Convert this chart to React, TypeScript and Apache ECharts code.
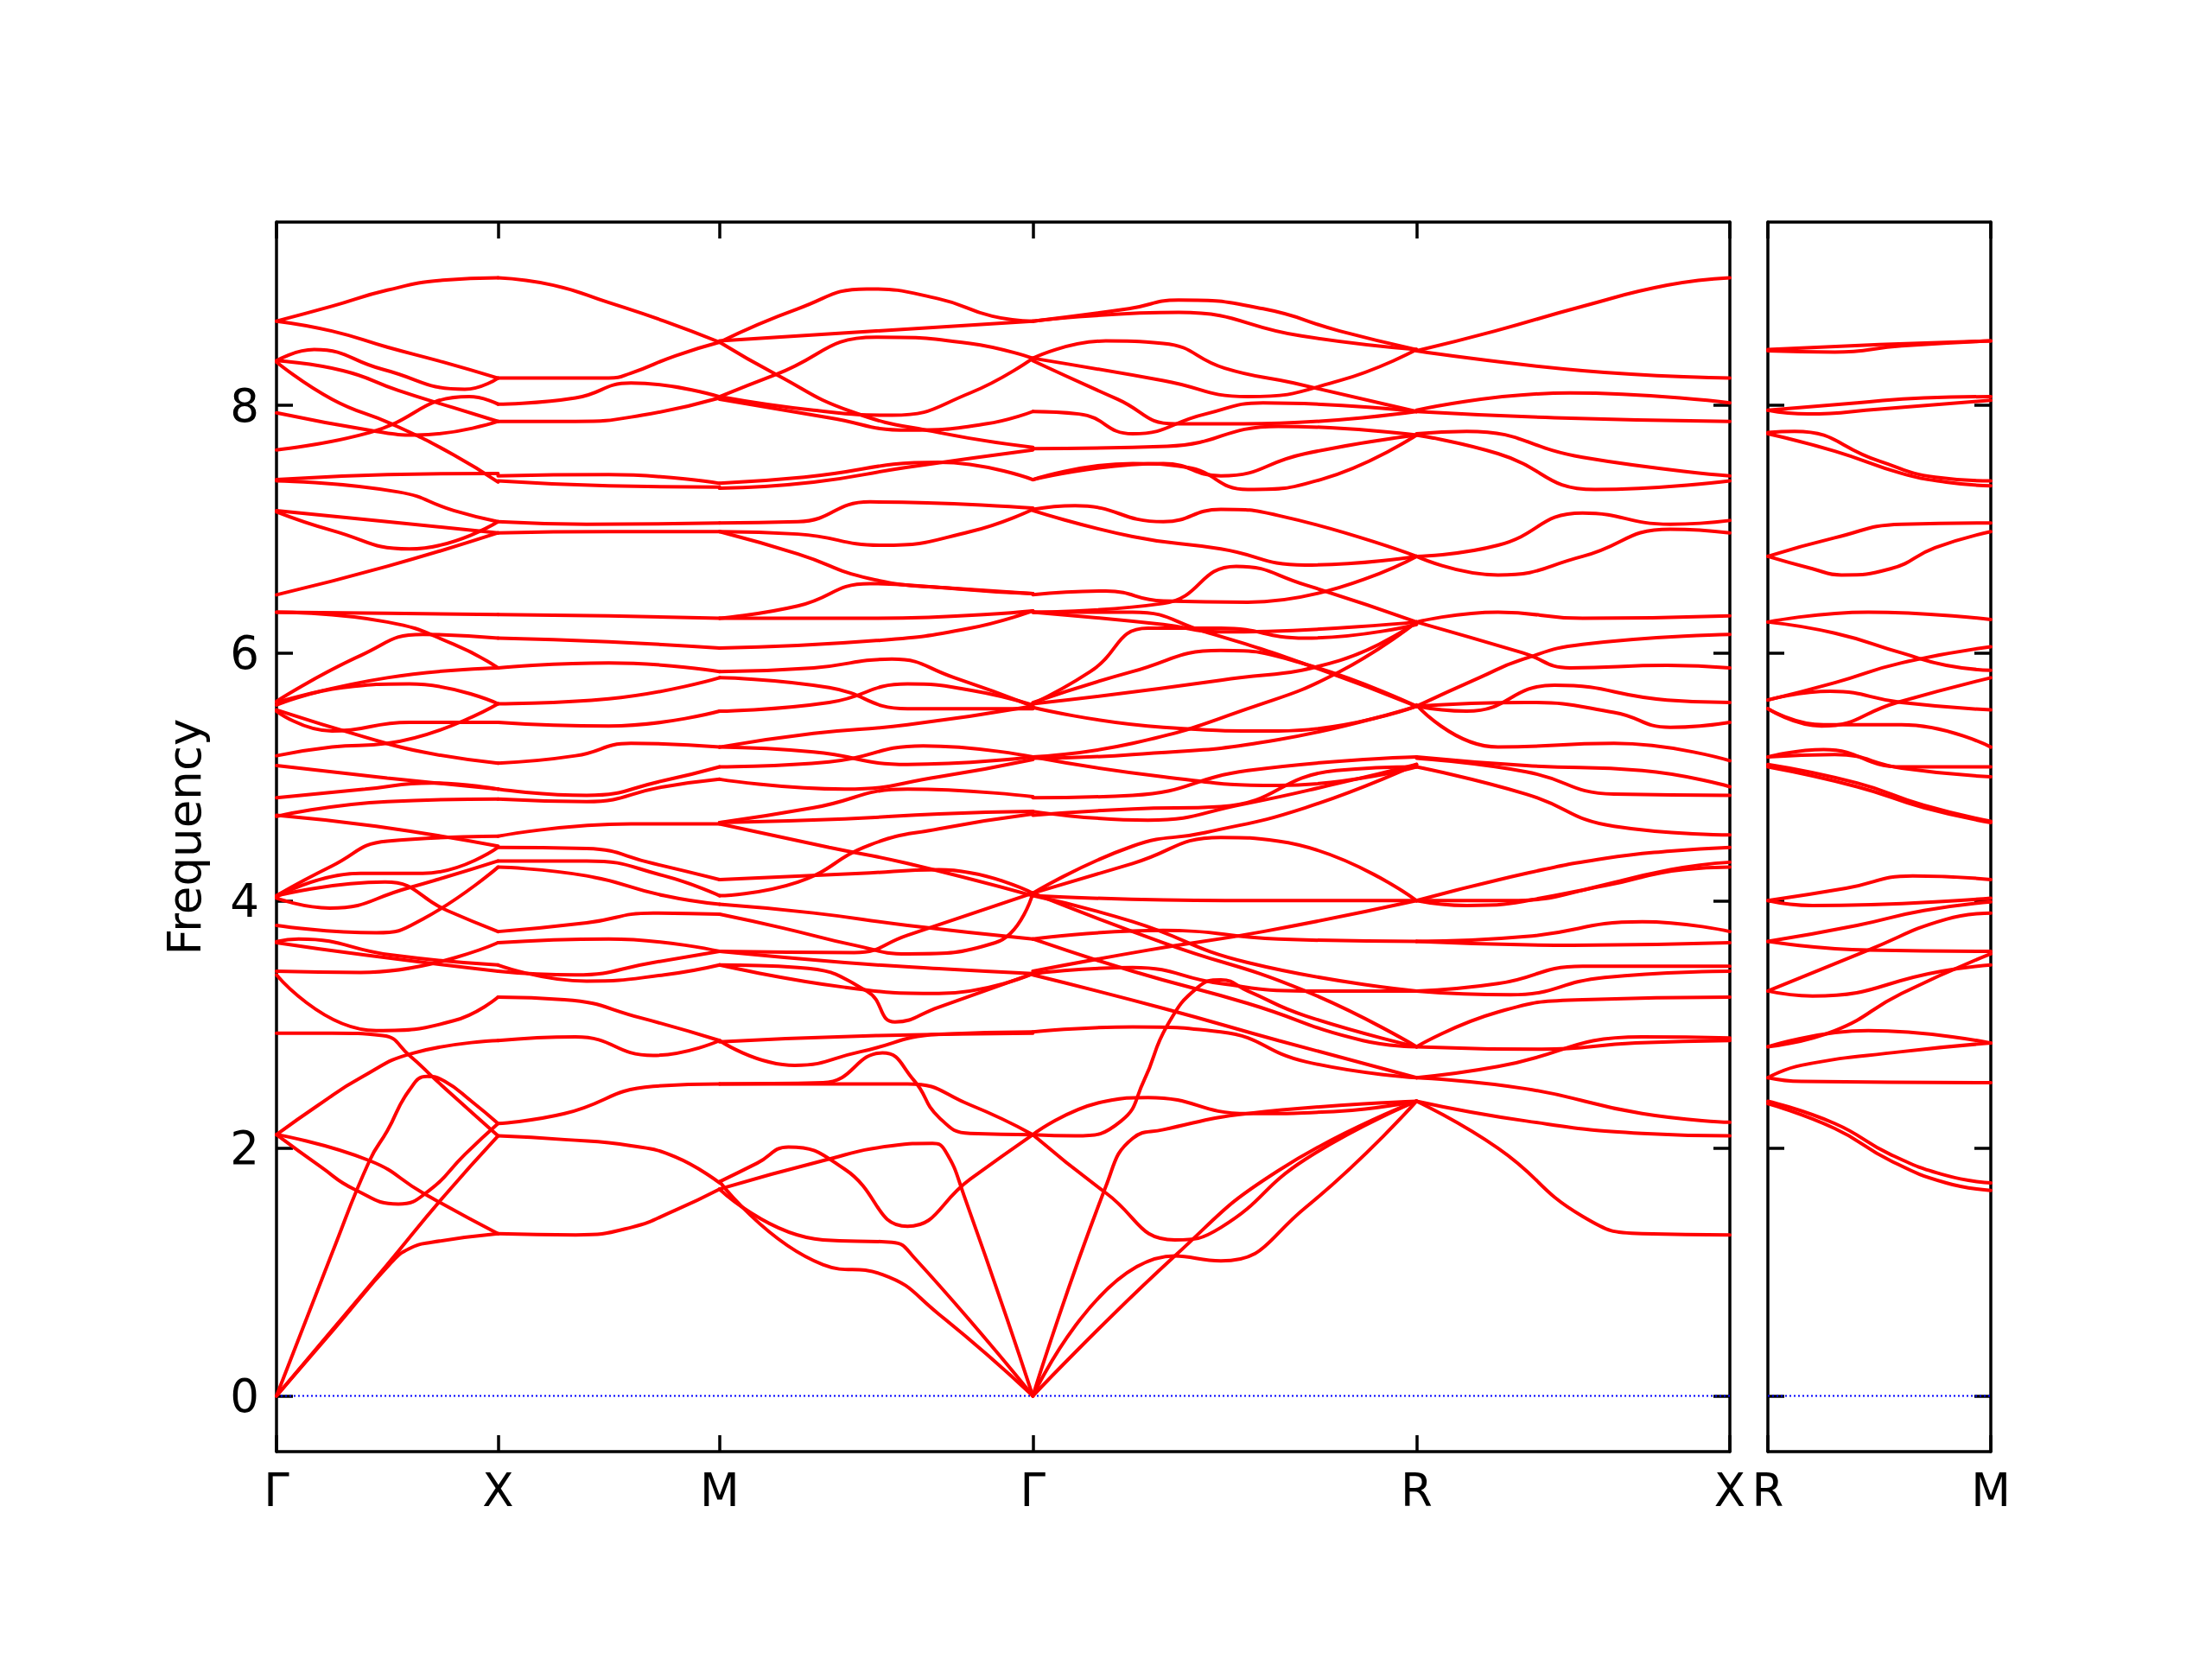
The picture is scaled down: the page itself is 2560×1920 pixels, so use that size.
import React, { useEffect, useRef } from 'react';
import * as echarts from 'echarts';

// ---- axes / labels ----
const LEFT_LABELS = ['Γ', 'X', 'M', 'Γ', 'R', 'X'];
const LEFT_POS = [0, 0.5, 1.0, 1.7071, 2.5731, 3.2802];
const RIGHT_LABELS = ['R', 'M'];
const RIGHT_POS = [0, 0.5];
const Y_TICKS = [0, 2, 4, 6, 8];
const Y_MIN = -0.45;
const Y_MAX = 9.48;

// ---- band curves per segment: [t along segment (0..1), frequency] ----
const GX_BANDS = [
  [[0, 8.68], [0.25, 8.8], [0.5, 8.93], [0.75, 9.01], [1, 9.03]],
  [[0, 8.68], [0.25, 8.6], [0.5, 8.47], [0.75, 8.35], [1, 8.22]],
  [[0, 8.36], [0.17, 8.45], [0.48, 8.29], [0.85, 8.13], [1, 8.22]],
  [[0, 8.36], [0.3, 8.28], [0.55, 8.12], [0.8, 7.98], [1, 7.87]],
  [[0, 8.35], [0.25, 8.05], [0.52, 7.85], [0.8, 7.6], [1, 7.38]],
  [[0, 7.94], [0.45, 7.79], [0.63, 7.76], [1, 7.87]],
  [[0, 7.64], [0.42, 7.78], [0.87, 8.07], [1, 8.01]],
  [[0, 7.4], [0.5, 7.44], [1, 7.45]],
  [[0, 7.39], [0.55, 7.3], [0.8, 7.15], [1, 7.06]],
  [[0, 7.15], [0.5, 7.06], [1, 6.97]],
  [[0, 7.14], [0.25, 6.99], [0.6, 6.84], [1, 7.06]],
  [[0, 6.47], [0.5, 6.7], [1, 6.97]],
  [[0, 6.33], [0.5, 6.32], [1, 6.31]],
  [[0, 6.33], [0.5, 6.25], [0.8, 6.07], [1, 5.88]],
  [[0, 5.61], [0.38, 5.98], [0.66, 6.15], [1, 6.12]],
  [[0, 5.6], [0.5, 5.8], [1, 5.88]],
  [[0, 5.58], [0.3, 5.72], [0.6, 5.75], [1, 5.59]],
  [[0, 5.53], [0.25, 5.37], [0.6, 5.44], [1, 5.44]],
  [[0, 5.54], [0.4, 5.32], [0.66, 5.2], [1, 5.11]],
  [[0, 5.17], [0.25, 5.24], [0.5, 5.27], [1, 5.59]],
  [[0, 5.09], [0.5, 4.99], [1, 4.9]],
  [[0, 4.83], [0.4, 4.9], [0.7, 4.95], [1, 4.9]],
  [[0, 4.69], [0.45, 4.6], [1, 4.44]],
  [[0, 4.68], [0.5, 4.8], [1, 4.82]],
  [[0, 4.04], [0.25, 4.28], [0.5, 4.48], [1, 4.52]],
  [[0, 4.03], [0.38, 4.22], [0.66, 4.22], [1, 4.43]],
  [[0, 4.02], [0.24, 3.94], [0.59, 4.1], [1, 4.32]],
  [[0, 4.04], [0.49, 4.15], [0.77, 3.92], [1, 3.75]],
  [[0, 3.8], [0.45, 3.74], [0.66, 3.85], [1, 4.27]],
  [[0, 3.67], [0.1, 3.69], [0.52, 3.56], [1, 3.48]],
  [[0, 3.66], [0.4, 3.56], [1, 3.43]],
  [[0, 3.43], [0.38, 3.42], [1, 3.66]],
  [[0, 3.4], [0.45, 2.95], [0.8, 3.03], [1, 3.22]],
  [[0, 2.93], [0.25, 2.93], [0.48, 2.91], [0.6, 2.75], [0.72, 2.55], [1, 2.1]],
  [[0, 2.11], [0.19, 2.35], [0.38, 2.57], [0.62, 2.77], [1, 2.87]],
  [[0, 2.11], [0.42, 1.9], [0.66, 1.64], [1, 1.31]],
  [[0, 2.11], [0.2, 1.85], [0.35, 1.67], [0.55, 1.55], [0.69, 1.66], [0.85, 1.95], [1, 2.2]],
  [[0, 0], [0.25, 1.15], [0.42, 1.9], [0.5, 2.14], [0.6, 2.47], [0.68, 2.58], [0.76, 2.54], [0.88, 2.38], [1, 2.2]],
  [[0, 0], [0.26, 0.54], [0.52, 1.08], [0.6, 1.19], [0.7, 1.24], [1, 1.31]],
  [[0, 0], [0.25, 0.53], [0.5, 1.06], [0.75, 1.6], [1, 2.1]],
];

const XM_BANDS = [
  [[0, 9.03], [0.25, 8.97], [0.5, 8.83], [0.75, 8.68], [1, 8.51]],
  [[0, 8.22], [0.5, 8.22], [0.6, 8.26], [0.8, 8.4], [1, 8.51]],
  [[0, 8.01], [0.35, 8.06], [0.6, 8.18], [1, 8.07]],
  [[0, 7.87], [0.35, 7.87], [0.65, 7.92], [1, 8.06]],
  [[0, 7.43], [0.5, 7.44], [1, 7.37]],
  [[0, 7.39], [0.5, 7.35], [1, 7.34]],
  [[0, 7.06], [0.4, 7.04], [1, 7.05]],
  [[0, 6.97], [0.5, 6.98], [1, 6.98]],
  [[0, 6.31], [0.5, 6.3], [1, 6.28]],
  [[0, 6.12], [0.5, 6.09], [1, 6.04]],
  [[0, 5.88], [0.5, 5.92], [1, 5.85]],
  [[0, 5.59], [0.5, 5.63], [1, 5.8]],
  [[0, 5.44], [0.5, 5.41], [1, 5.53]],
  [[0, 5.11], [0.35, 5.17], [0.6, 5.27], [1, 5.24]],
  [[0, 4.9], [0.4, 4.85], [0.75, 4.97], [1, 5.08]],
  [[0, 4.82], [0.4, 4.8], [0.75, 4.92], [1, 4.98]],
  [[0, 4.52], [0.6, 4.62], [1, 4.62]],
  [[0, 4.43], [0.4, 4.42], [0.7, 4.3], [1, 4.17]],
  [[0, 4.32], [0.4, 4.32], [0.75, 4.2], [1, 4.04]],
  [[0, 4.27], [0.4, 4.2], [0.75, 4.04], [1, 3.97]],
  [[0, 3.75], [0.4, 3.82], [0.7, 3.9], [1, 3.89]],
  [[0, 3.66], [0.5, 3.69], [1, 3.59]],
  [[0, 3.48], [0.4, 3.35], [0.75, 3.4], [1, 3.48]],
  [[0, 3.43], [0.35, 3.4], [0.7, 3.5], [1, 3.59]],
  [[0, 3.22], [0.3, 3.2], [0.65, 3.05], [1, 2.87]],
  [[0, 2.87], [0.35, 2.9], [0.7, 2.75], [1, 2.87]],
  [[0, 2.2], [0.3, 2.28], [0.7, 2.5], [1, 2.52]],
  [[0, 2.1], [0.3, 2.07], [0.6, 2.02], [0.8, 1.93], [1, 1.72]],
  [[0, 1.31], [0.35, 1.3], [0.6, 1.36], [0.8, 1.5], [1, 1.67]],
];

const MG_BANDS = [
  [[0, 8.51], [0.25, 8.78], [0.47, 8.94], [0.7, 8.86], [0.87, 8.72], [1, 8.68]],
  [[0, 8.52], [0.5, 8.6], [1, 8.68]],
  [[0, 8.07], [0.18, 8.25], [0.5, 8.55], [0.8, 8.5], [1, 8.38]],
  [[0, 8.51], [0.18, 8.25], [0.42, 7.95], [0.7, 7.78], [1, 7.66]],
  [[0, 8.07], [0.3, 7.96], [0.55, 7.92], [0.8, 8.1], [1, 8.38]],
  [[0, 8.05], [0.35, 7.9], [0.6, 7.8], [0.85, 7.85], [1, 7.95]],
  [[0, 7.37], [0.27, 7.42], [0.7, 7.54], [1, 7.4]],
  [[0, 7.33], [0.3, 7.38], [0.6, 7.5], [1, 7.64]],
  [[0, 7.05], [0.25, 7.06], [0.48, 7.22], [1, 7.17]],
  [[0, 6.98], [0.25, 6.96], [0.52, 6.87], [0.8, 6.98], [1, 7.16]],
  [[0, 6.98], [0.25, 6.8], [0.48, 6.6], [0.75, 6.52], [1, 6.48]],
  [[0, 6.28], [0.25, 6.38], [0.48, 6.56], [0.7, 6.53], [1, 6.48]],
  [[0, 6.28], [0.5, 6.28], [1, 6.34]],
  [[0, 6.04], [0.5, 6.1], [0.8, 6.2], [1, 6.34]],
  [[0, 5.85], [0.3, 5.88], [0.55, 5.95], [0.75, 5.8], [1, 5.57]],
  [[0, 5.8], [0.35, 5.72], [0.6, 5.55], [1, 5.55]],
  [[0, 5.53], [0.35, 5.6], [0.6, 5.75], [0.8, 5.7], [1, 5.58]],
  [[0, 5.24], [0.3, 5.35], [0.6, 5.42], [1, 5.57]],
  [[0, 5.24], [0.3, 5.2], [0.6, 5.1], [1, 5.16]],
  [[0, 5.08], [0.35, 5.12], [0.65, 5.25], [1, 5.16]],
  [[0, 4.98], [0.4, 4.9], [0.7, 5.0], [1, 5.14]],
  [[0, 4.63], [0.3, 4.75], [0.6, 4.9], [1, 4.84]],
  [[0, 4.63], [0.4, 4.66], [0.7, 4.7], [1, 4.72]],
  [[0, 4.62], [0.35, 4.43], [0.6, 4.3], [1, 4.04]],
  [[0, 4.17], [0.45, 4.22], [0.7, 4.25], [1, 4.06]],
  [[0, 4.04], [0.25, 4.15], [0.48, 4.45], [0.7, 4.58], [1, 4.7]],
  [[0, 3.89], [0.2, 3.78], [0.43, 3.64], [0.6, 3.57], [0.88, 3.66], [1, 4.06]],
  [[0, 3.59], [0.43, 3.58], [0.6, 3.72], [1, 4.06]],
  [[0, 3.97], [0.3, 3.9], [0.6, 3.8], [1, 3.69]],
  [[0, 3.48], [0.25, 3.46], [0.47, 3.27], [0.56, 3.02], [0.7, 3.14], [1, 3.41]],
  [[0, 3.59], [0.4, 3.5], [0.7, 3.45], [1, 3.41]],
  [[0, 3.48], [0.4, 3.3], [0.7, 3.25], [1, 3.41]],
  [[0, 2.87], [0.24, 2.67], [0.45, 2.78], [0.7, 2.92], [1, 2.94]],
  [[0, 2.86], [0.5, 2.91], [1, 2.93]],
  [[0, 2.52], [0.33, 2.53], [0.52, 2.77], [0.62, 2.55], [0.7, 2.25], [0.8, 2.12], [1, 2.11]],
  [[0, 2.52], [0.6, 2.52], [0.8, 2.35], [1, 2.11]],
  [[0, 1.73], [0.12, 1.88], [0.22, 2.01], [0.4, 1.83], [0.6, 1.37], [0.8, 1.75], [1, 2.11]],
  [[0, 1.67], [0.33, 1.9], [0.55, 2.02], [0.68, 2.04], [0.72, 1.98], [0.78, 1.62], [1, 0]],
  [[0, 1.67], [0.33, 1.26], [0.55, 1.24], [0.62, 1.12], [1, 0]],
  [[0, 1.73], [0.33, 1.06], [0.52, 0.98], [0.7, 0.66], [1, 0]],
];

const GR_BANDS = [
  [[0, 8.68], [0.25, 8.78], [0.38, 8.85], [0.6, 8.78], [0.8, 8.6], [1, 8.45]],
  [[0, 8.68], [0.38, 8.75], [0.7, 8.56], [1, 8.45]],
  [[0, 8.38], [0.19, 8.52], [0.34, 8.5], [0.5, 8.3], [0.68, 8.18], [1, 7.95]],
  [[0, 8.38], [0.34, 8.2], [0.56, 8.07], [0.8, 8.2], [1, 8.45]],
  [[0, 8.36], [0.22, 8.05], [0.37, 7.85], [0.55, 7.85], [1, 7.95]],
  [[0, 7.95], [0.12, 7.93], [0.26, 7.77], [0.45, 7.93], [0.6, 8.02], [1, 7.95]],
  [[0, 7.65], [0.35, 7.67], [0.64, 7.83], [1, 7.76]],
  [[0, 7.4], [0.26, 7.53], [0.4, 7.5], [0.56, 7.32], [0.75, 7.4], [1, 7.76]],
  [[0, 7.4], [0.34, 7.53], [0.49, 7.43], [0.71, 7.61], [1, 7.76]],
  [[0, 7.16], [0.11, 7.19], [0.34, 7.06], [0.49, 7.16], [0.64, 7.11], [1, 6.78]],
  [[0, 7.15], [0.26, 6.94], [0.49, 6.84], [0.71, 6.71], [1, 6.78]],
  [[0, 6.47], [0.19, 6.5], [0.34, 6.42], [0.56, 6.41], [1, 6.78]],
  [[0, 6.33], [0.34, 6.4], [0.53, 6.7], [0.71, 6.55], [1, 6.25]],
  [[0, 6.33], [0.34, 6.23], [0.49, 6.17], [1, 6.25]],
  [[0, 6.33], [0.26, 6.33], [0.45, 6.17], [0.71, 5.91], [1, 5.57]],
  [[0, 5.59], [0.15, 5.85], [0.3, 6.2], [0.49, 6.2], [0.71, 6.12], [1, 6.23]],
  [[0, 5.6], [0.26, 5.85], [0.49, 6.02], [0.71, 5.91], [1, 5.57]],
  [[0, 5.59], [0.49, 5.78], [0.8, 5.94], [1, 6.25]],
  [[0, 5.56], [0.34, 5.4], [0.64, 5.37], [1, 5.57]],
  [[0, 5.16], [0.26, 5.27], [0.56, 5.55], [0.8, 5.85], [1, 6.25]],
  [[0, 5.15], [0.26, 5.18], [0.64, 5.3], [1, 5.57]],
  [[0, 5.16], [0.34, 5.0], [0.64, 4.93], [1, 5.08]],
  [[0, 4.83], [0.26, 4.85], [0.56, 5.05], [1, 5.16]],
  [[0, 4.69], [0.26, 4.74], [0.49, 4.76], [0.79, 5.05], [1, 5.08]],
  [[0, 4.72], [0.3, 4.65], [0.55, 4.78], [0.8, 4.95], [1, 5.1]],
  [[0, 4.06], [0.26, 4.3], [0.49, 4.51], [0.64, 4.48], [1, 4.0]],
  [[0, 4.06], [0.26, 4.44], [0.45, 4.55], [0.71, 4.75], [1, 5.1]],
  [[0, 4.04], [0.5, 4.0], [1, 4.0]],
  [[0, 4.04], [0.26, 3.83], [0.56, 3.5], [1, 3.27]],
  [[0, 4.06], [0.34, 3.66], [0.71, 3.27], [1, 2.82]],
  [[0, 3.69], [0.34, 3.76], [0.64, 3.69], [1, 3.67]],
  [[0, 3.69], [0.26, 3.43], [0.56, 3.17], [0.86, 2.87], [1, 2.82]],
  [[0, 3.41], [0.26, 3.46], [0.49, 3.33], [0.71, 3.27], [1, 3.27]],
  [[0, 3.43], [0.3, 3.6], [0.6, 3.75], [1, 4.0]],
  [[0, 3.4], [0.34, 3.13], [0.64, 2.87], [1, 2.57]],
  [[0, 2.94], [0.26, 2.98], [0.49, 2.94], [0.71, 2.7], [1, 2.57]],
  [[0, 2.11], [0.11, 2.1], [0.23, 2.22], [0.29, 2.55], [0.35, 2.99], [0.43, 3.3], [0.49, 3.36], [0.56, 3.27], [0.71, 3.07], [1, 2.82]],
  [[0, 2.11], [0.19, 2.38], [0.3, 2.41], [0.56, 2.28], [0.8, 2.3], [1, 2.38]],
  [[0, 2.11], [0.19, 1.64], [0.37, 1.26], [0.49, 1.36], [0.71, 1.91], [1, 2.38]],
  [[0, 0], [0.19, 1.69], [0.26, 2.08], [0.34, 2.15], [0.56, 2.28], [1, 2.38]],
  [[0, 0], [0.37, 1.13], [0.64, 1.82], [1, 2.38]],
  [[0, 0], [0.37, 1.13], [0.49, 1.09], [0.71, 1.52], [1, 2.38]],
];

const RX_BANDS = [
  [[0, 8.44], [0.25, 8.6], [0.53, 8.8], [0.8, 8.97], [1, 9.03]],
  [[0, 8.44], [0.53, 8.28], [1, 8.22]],
  [[0, 7.96], [0.49, 8.1], [1, 8.02]],
  [[0, 7.95], [0.44, 7.9], [1, 7.87]],
  [[0, 7.77], [0.16, 7.79], [0.53, 7.58], [1, 7.43]],
  [[0, 7.76], [0.26, 7.61], [0.57, 7.32], [1, 7.39]],
  [[0, 6.78], [0.26, 6.87], [0.53, 7.13], [0.81, 7.04], [1, 7.07]],
  [[0, 6.78], [0.26, 6.63], [0.53, 6.78], [0.81, 7.0], [1, 6.97]],
  [[0, 6.25], [0.26, 6.33], [0.53, 6.28], [1, 6.3]],
  [[0, 6.25], [0.34, 6.0], [0.49, 5.88], [0.8, 5.9], [1, 5.88]],
  [[0, 5.57], [0.2, 5.8], [0.34, 5.95], [0.53, 6.07], [1, 6.15]],
  [[0, 5.57], [0.16, 5.53], [0.44, 5.74], [0.8, 5.62], [1, 5.6]],
  [[0, 5.57], [0.35, 5.6], [0.63, 5.52], [0.81, 5.4], [1, 5.44]],
  [[0, 5.58], [0.26, 5.24], [0.63, 5.27], [1, 5.13]],
  [[0, 5.16], [0.35, 5.09], [0.72, 5.05], [1, 4.92]],
  [[0, 5.15], [0.35, 5.04], [0.63, 4.86], [1, 4.85]],
  [[0, 5.08], [0.35, 4.86], [0.63, 4.6], [1, 4.53]],
  [[0, 4.0], [0.35, 4.22], [0.6, 4.34], [0.81, 4.4], [1, 4.43]],
  [[0, 4.0], [0.16, 3.96], [0.44, 4.04], [0.81, 4.25], [1, 4.31]],
  [[0, 4.0], [0.3, 4.0], [0.6, 4.12], [0.85, 4.25], [1, 4.27]],
  [[0, 3.67], [0.35, 3.71], [0.72, 3.83], [1, 3.75]],
  [[0, 3.67], [0.5, 3.64], [1, 3.66]],
  [[0, 3.27], [0.26, 3.33], [0.53, 3.47], [1, 3.47]],
  [[0, 3.27], [0.3, 3.24], [0.6, 3.38], [1, 3.43]],
  [[0, 2.82], [0.26, 3.1], [0.53, 3.2], [1, 3.22]],
  [[0, 2.82], [0.4, 2.8], [0.7, 2.85], [1, 2.87]],
  [[0, 2.57], [0.26, 2.66], [0.72, 2.9], [1, 2.89]],
  [[0, 2.57], [0.35, 2.48], [0.72, 2.28], [1, 2.21]],
  [[0, 2.38], [0.35, 2.22], [0.72, 2.12], [1, 2.1]],
  [[0, 2.38], [0.26, 2.0], [0.53, 1.45], [0.72, 1.31], [1, 1.3]],
];

const RM_BANDS = [
  [[0, 8.45], [0.5, 8.49], [1, 8.52]],
  [[0, 8.44], [0.3, 8.43], [0.6, 8.48], [1, 8.52]],
  [[0, 7.96], [0.4, 8.02], [0.7, 8.06], [1, 8.07]],
  [[0, 7.96], [0.18, 7.93], [0.5, 7.97], [1, 8.04]],
  [[0, 7.78], [0.12, 7.79], [0.5, 7.55], [0.75, 7.42], [1, 7.39]],
  [[0, 7.77], [0.3, 7.63], [0.6, 7.45], [0.8, 7.38], [1, 7.35]],
  [[0, 6.78], [0.3, 6.93], [0.6, 7.04], [1, 7.05]],
  [[0, 6.78], [0.2, 6.68], [0.33, 6.63], [0.55, 6.68], [0.75, 6.85], [1, 6.98]],
  [[0, 6.25], [0.45, 6.33], [1, 6.27]],
  [[0, 6.25], [0.3, 6.16], [0.6, 6.0], [0.8, 5.9], [1, 5.86]],
  [[0, 5.62], [0.3, 5.76], [0.6, 5.92], [1, 6.05]],
  [[0, 5.62], [0.28, 5.69], [0.6, 5.6], [1, 5.54]],
  [[0, 5.55], [0.24, 5.41], [0.58, 5.6], [1, 5.8]],
  [[0, 5.55], [0.25, 5.42], [0.6, 5.42], [1, 5.24]],
  [[0, 5.16], [0.25, 5.22], [0.6, 5.08], [1, 5.08]],
  [[0, 5.16], [0.3, 5.18], [0.6, 5.07], [1, 5.0]],
  [[0, 5.08], [0.4, 4.92], [0.7, 4.75], [1, 4.63]],
  [[0, 5.1], [0.4, 4.95], [0.7, 4.77], [1, 4.64]],
  [[0, 4.0], [0.35, 4.1], [0.65, 4.2], [1, 4.17]],
  [[0, 4.0], [0.2, 3.96], [1, 4.02]],
  [[0, 3.67], [0.4, 3.8], [0.7, 3.92], [1, 3.99]],
  [[0, 3.67], [0.45, 3.6], [1, 3.59]],
  [[0, 3.27], [0.2, 3.23], [0.78, 3.43], [1, 3.48]],
  [[0, 3.27], [0.45, 3.6], [0.8, 3.85], [1, 3.9]],
  [[0, 2.82], [0.3, 2.95], [0.6, 3.25], [1, 3.57]],
  [[0, 2.82], [0.45, 2.95], [1, 2.85]],
  [[0, 2.57], [0.15, 2.67], [0.6, 2.78], [1, 2.85]],
  [[0, 2.57], [0.15, 2.54], [1, 2.53]],
  [[0, 2.38], [0.3, 2.2], [0.55, 1.95], [0.8, 1.78], [1, 1.72]],
  [[0, 2.36], [0.3, 2.16], [0.55, 1.9], [0.8, 1.72], [1, 1.66]],
];

const LEFT_SEGMENTS = [GX_BANDS, XM_BANDS, MG_BANDS, GR_BANDS, RX_BANDS];
const RIGHT_SEGMENTS = [RM_BANDS];

const FONT = 'DejaVu Sans';
const RED = '#ff0000';

function bandSeries(segments: number[][][][], pos: number[], axisIndex: number) {
  const out: any[] = [];
  segments.forEach((bands, s) => {
    const x0 = pos[s];
    const x1 = pos[s + 1];
    bands.forEach((curve) => {
      out.push({
        type: 'line',
        xAxisIndex: axisIndex,
        yAxisIndex: axisIndex,
        data: curve.map(([t, v]) => [x0 + t * (x1 - x0), v]),
        showSymbol: false,
        symbol: 'none',
        smooth: 0.5,
        lineStyle: { color: RED, width: 4, cap: 'round', join: 'round' },
        silent: true,
        z: 3,
      });
    });
  });
  return out;
}

function labelFor(values: number[], labels: string[]) {
  return (v: number) => {
    for (let i = 0; i < values.length; i++) {
      if (Math.abs(values[i] - v) < 1e-4) return labels[i];
    }
    return '';
  };
}

const axisLineStyle = { show: true, onZero: false, lineStyle: { color: '#000', width: 3.5 } };
const tickStyle = (vals: number[]) => ({
  show: true,
  inside: true,
  length: 19,
  customValues: vals,
  lineStyle: { color: '#000', width: 3.5 },
});

export default function App() {
  const ref = useRef<HTMLDivElement>(null);
  useEffect(() => {
    if (!ref.current) return;
    const chart = echarts.init(ref.current, undefined, { renderer: 'svg' });
    const leftMax = LEFT_POS[LEFT_POS.length - 1];
    const rightMax = RIGHT_POS[RIGHT_POS.length - 1];
    const mkX = (grid: number, pos: number[], labels: string[], max: number, position: string, showLabel: boolean) => ({
      type: 'value',
      gridIndex: grid,
      position,
      min: 0,
      max,
      axisLine: axisLineStyle,
      axisTick: tickStyle(pos),
      splitLine: { show: false },
      axisLabel: showLabel
        ? {
            show: true,
            customValues: pos,
            formatter: labelFor(pos, labels),
            fontSize: 53,
            fontFamily: FONT,
            color: '#000',
            margin: 18,
          }
        : { show: false },
    });
    const mkY = (grid: number, position: string, showLabel: boolean, withName: boolean) => ({
      type: 'value',
      gridIndex: grid,
      position,
      min: Y_MIN,
      max: Y_MAX,
      axisLine: axisLineStyle,
      axisTick: tickStyle(Y_TICKS),
      splitLine: { show: false },
      axisLabel: showLabel
        ? {
            show: true,
            customValues: Y_TICKS,
            formatter: (v: number) => String(Math.round(v)),
            fontSize: 53,
            fontFamily: FONT,
            color: '#000',
            margin: 20,
          }
        : { show: false },
      name: withName ? 'Frequency' : '',
      nameLocation: 'middle',
      nameGap: 80,
      nameTextStyle: { fontSize: 53, fontFamily: FONT, color: '#000' },
    });

    const zeroLine = (axisIndex: number, max: number) => ({
      type: 'line',
      xAxisIndex: axisIndex,
      yAxisIndex: axisIndex,
      data: [[0, 0], [max, 0]],
      symbol: 'none',
      silent: true,
      lineStyle: { color: '#0000ff', width: 2, type: [2, 3] },
      z: 2,
    });

    chart.setOption({
      animation: false,
      backgroundColor: '#fff',
      grid: [
        { left: 320, top: 257, width: 1682, height: 1423 },
        { left: 2046, top: 257, width: 258, height: 1423 },
      ],
      xAxis: [
        mkX(0, LEFT_POS, LEFT_LABELS, leftMax, 'bottom', true),
        mkX(1, RIGHT_POS, RIGHT_LABELS, rightMax, 'bottom', true),
        mkX(0, LEFT_POS, LEFT_LABELS, leftMax, 'top', false),
        mkX(1, RIGHT_POS, RIGHT_LABELS, rightMax, 'top', false),
      ],
      yAxis: [
        mkY(0, 'left', true, true),
        mkY(1, 'left', false, false),
        mkY(0, 'right', false, false),
        mkY(1, 'right', false, false),
      ],
      series: [
        zeroLine(0, leftMax),
        zeroLine(1, rightMax),
        ...bandSeries(LEFT_SEGMENTS, LEFT_POS, 0),
        ...bandSeries(RIGHT_SEGMENTS, RIGHT_POS, 1),
      ],
    });
    return () => chart.dispose();
  }, []);
  return (
    <div
      ref={ref}
      style={{ position: 'absolute', left: 0, top: 0, width: 2560, height: 1920, background: '#fff' }}
    />
  );
}
